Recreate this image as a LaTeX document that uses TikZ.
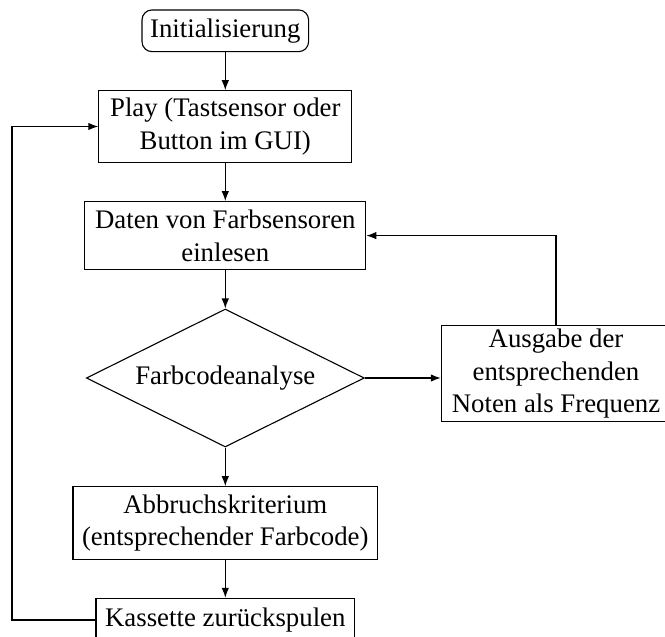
\documentclass[tikz,border=0pt]{standalone}
\usepackage{fontspec}
\setmainfont{Liberation Serif}
\usetikzlibrary{shapes.geometric,arrows.meta}
\begin{document}
\begin{tikzpicture}[x=1pt,y=-1pt,
  every node/.style={font=\fontsize{26.8pt}{32.5pt}\selectfont, inner sep=0pt, align=center},
  box/.style={draw, line width=1.1pt, rectangle},
  startbox/.style={draw, line width=1.1pt, rectangle, rounded corners=10pt},
  decbox/.style={draw, line width=1.1pt, diamond, aspect=2.0145},
  conn/.style={line width=1.1pt, -{Latex[length=10pt,width=7.5pt]}},
  plain/.style={line width=1.1pt}]
\useasboundingbox (0,0) rectangle (665,637);
\node[startbox, minimum width=166.6pt, minimum height=41.7pt] (init) at (225.3,30.8) {Initialisierung};
\node[box, minimum width=253pt, minimum height=71.6pt] (play) at (225.3,126.5) {Play (Tastsensor oder\\Button im GUI)};
\node[box, minimum width=281pt, minimum height=68pt] (daten) at (225.3,235.6) {Daten von Farbsensoren\\einlesen};
\node[decbox, minimum width=278pt, minimum height=138pt] (dia) at (225.3,378) {Farbcodeanalyse};
\node[box, minimum width=229.4pt, minimum height=96pt] (aus) at (556,373.7) {Ausgabe der\\entsprechenden\\Noten als Frequenz};
\node[box, minimum width=304.7pt, minimum height=72.6pt] (abb) at (225.3,523) {Abbruchskriterium\\(entsprechender Farbcode)};
\node[box, minimum width=258.7pt, minimum height=43.4pt] (kas) at (225.3,620) {Kassette zurückspulen};
\coordinate (lx) at (12,0);
\draw[conn] (init.south) -- (play.north);
\draw[conn] (play.south) -- (daten.north);
\draw[conn] (daten.south) -- (dia.north);
\draw[conn] (dia.east) -- (dia.east -| aus.west);
\draw[conn] (aus.north) |- (daten.east);
\draw[conn] (dia.south) -- (abb.north);
\draw[conn] (abb.south) -- (kas.north);
\draw[conn] (kas.west) -- (kas.west -| lx) |- (play.west);
\end{tikzpicture}
\end{document}
